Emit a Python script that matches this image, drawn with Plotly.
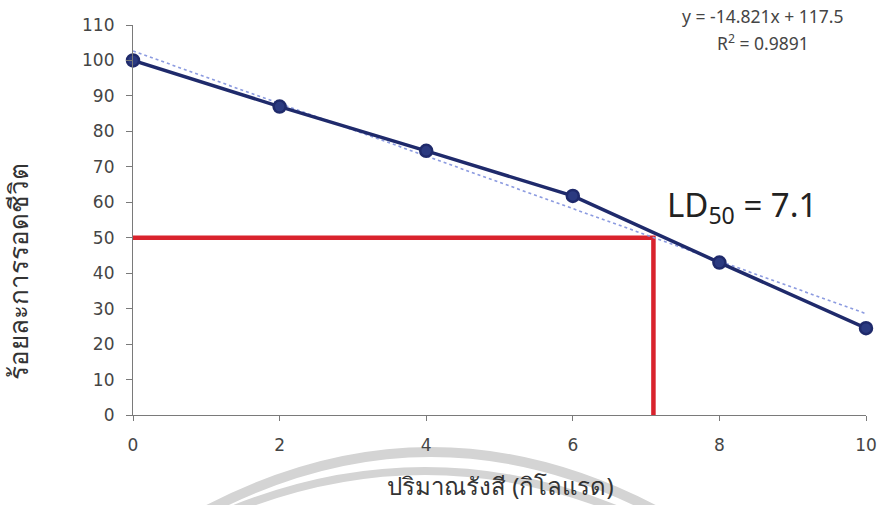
import plotly.graph_objects as go

# Survival (%) against radiation dose (kilorad)
dose = [0, 2, 4, 6, 8, 10]
survival = [100, 87, 74.5, 61.8, 43, 24.5]

# Linear trend fitted on the point index (1..6), as reported on the chart
trend_slope = -14.821
trend_intercept = 117.5
trend_r2 = 0.9891
dose_step = 2

ld50 = 7.1
ld50_level = 50

x_ticks = [0, 2, 4, 6, 8, 10]
y_ticks = list(range(0, 111, 10))

navy = "#1f2a6b"
red = "#d9232d"
trend_color = "#8c9be0"
axis_color = "#7a7a7a"
text_color = "#454545"

trend_x = [dose[0], dose[-1]]
trend_y = [trend_slope * (x / dose_step + 1) + trend_intercept for x in trend_x]

# Plot area in pixels (left, right, top, bottom)
PL, PR, PT, PB = 133, 866, 25, 415


def px(x):
    return (x - PL) / (PR - PL)


def py(y):
    return (PB - y) / (PB - PT)


fig = go.Figure()

# LD50 guide lines
fig.add_trace(go.Scatter(
    x=[0, ld50, ld50], y=[ld50_level, ld50_level, 0],
    mode="lines", line=dict(color=red, width=4.5),
    hoverinfo="skip", cliponaxis=False,
))

# Trend line
fig.add_trace(go.Scatter(
    x=trend_x, y=trend_y, mode="lines",
    line=dict(color=trend_color, width=1.6, dash="dot"),
    hoverinfo="skip",
))

# Measured survival
fig.add_trace(go.Scatter(
    x=dose, y=survival, mode="lines+markers",
    line=dict(color=navy, width=3.5),
    marker=dict(size=12, color="#2b3a80", line=dict(color=navy, width=2.5)),
    cliponaxis=False,
))


def arc_path(x0, x1, ytop, yend):
    cx = (x0 + x1) / 2
    cy = 2 * ytop - yend
    return (f"M {px(x0)},{py(yend)} Q {px(cx)},{py(cy)} {px(x1)},{py(yend)}")


# Faint grey arcs behind the x-axis title
shapes = [
    dict(type="path", xref="paper", yref="paper", layer="below",
         path=arc_path(200, 662, 452, 514), line=dict(color="#d4d4d4", width=10)),
    dict(type="path", xref="paper", yref="paper", layer="below",
         path=arc_path(222, 628, 471, 514), line=dict(color="#d4d4d4", width=8)),
]

fig.update_layout(
    width=879, height=505,
    margin=dict(l=PL, r=879 - PR, t=PT, b=505 - PB),
    paper_bgcolor="white", plot_bgcolor="rgba(0,0,0,0)",
    showlegend=False,
    shapes=shapes,
    font=dict(family="DejaVu Sans, sans-serif", color=text_color),
    xaxis=dict(
        range=[0, 10], tickvals=x_ticks, showgrid=False, zeroline=False,
        showline=True, linecolor=axis_color, linewidth=1.2,
        ticks="outside", ticklen=5, tickcolor=axis_color,
        tickfont=dict(size=17, color=text_color),
        ticklabelstandoff=9, automargin=False,
    ),
    yaxis=dict(
        range=[0, 110], tickvals=y_ticks, showgrid=False, zeroline=False,
        showline=True, linecolor=axis_color, linewidth=1.2,
        ticks="outside", ticklen=6, tickcolor=axis_color,
        tickfont=dict(size=17, color=text_color),
        ticklabelstandoff=8, automargin=False,
    ),
)

eq_text = f"y = {trend_slope}x + {trend_intercept}"
r2_text = f"R<sup>2</sup> = {trend_r2}"

fig.add_annotation(xref="paper", yref="paper", x=px(763), y=py(16),
                   text=eq_text, showarrow=False, xanchor="center", yanchor="middle",
                   font=dict(family="Noto Sans, sans-serif", size=17.5, color=text_color))
fig.add_annotation(xref="paper", yref="paper", x=px(763), y=py(43),
                   text=r2_text, showarrow=False, xanchor="center", yanchor="middle",
                   font=dict(family="Noto Sans, sans-serif", size=17.5, color=text_color))
fig.add_annotation(xref="paper", yref="paper", x=px(742), y=py(206),
                   text=f"LD<sub>50</sub> = {ld50}", showarrow=False, xanchor="center", yanchor="middle",
                   font=dict(family="Noto Sans, sans-serif", size=33, color="#222222"))

# Axis titles
fig.add_annotation(xref="paper", yref="paper", x=px(500), y=py(485),
                   text="ปริมาณรังสี (กิโลแรด)", showarrow=False, xanchor="center", yanchor="middle",
                   font=dict(family="Noto Sans, sans-serif", size=24, color="#333333"))
fig.add_annotation(xref="paper", yref="paper", x=px(18), y=py(272),
                   text="ร้อยละการรอดชีวิต", showarrow=False, textangle=-90,
                   xanchor="center", yanchor="middle",
                   font=dict(family="Noto Sans, sans-serif", size=26, color="#333333"))

fig.write_html("out.html")
